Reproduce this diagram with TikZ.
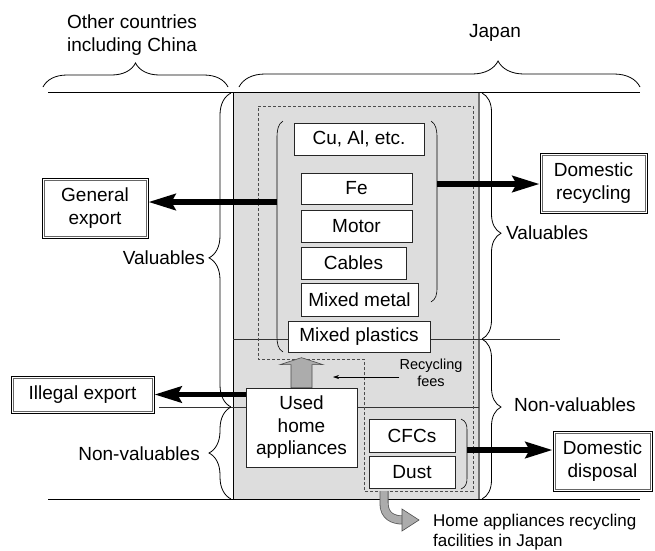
\documentclass[tikz,border=0pt]{standalone}
\usepackage{fontspec}
\setmainfont{Liberation Sans}
\usetikzlibrary{arrows.meta,decorations.pathreplacing}
\begin{document}
\begin{tikzpicture}[x=1pt,y=-1pt,
  txt/.style={inner sep=0pt, align=center, font=\fontsize{19}{22.5}\selectfont},
  box/.style={txt, draw=black!85, fill=white, line width=0.7pt},
  dbox/.style={box, draw=black, line width=0.8pt},
  innenrand/.style={line width=0.6pt, black!60},
  trennlinie/.style={line width=0.7pt, black!80},
  klammer/.style={decorate, line width=0.8pt},
  bigarrow/.style={line width=5.5pt, -{Stealth[length=27pt,width=16pt,inset=4pt]}},
  grauer pfeil/.style={fill=gray!65, draw=black!70, line width=0.6pt}]
\useasboundingbox (0,0) rectangle (655,550);
% Hintergrund:
\fill [gray!27] (233,92) rectangle (479,499);
\draw [line width=0.6pt] (233,92) -- (233,499);
\draw [line width=1.8pt, black!55] (479,92) -- (479,499);
% Linien:
\draw [line width=0.8pt] (48,92) -- (640,92);
\draw [line width=0.8pt] (48,499) -- (640,499);
\draw [trennlinie] (233,339) -- (560,339);
\draw [trennlinie] (159,407) -- (479,407);
\draw [dash pattern=on 3pt off 2pt, line width=0.7pt, black!70]
  (258,106) -- (473,106) -- (473,491) -- (364,491) -- (364,359) -- (258,359) -- cycle;
% Klammern oben:
\draw [klammer, decoration={brace, amplitude=24pt}] (43,87) -- (228,87);
\draw [klammer, decoration={brace, amplitude=26pt, aspect=0.646}] (239,87) -- (640,87);
\node [txt] (ausland) at (132,35) {Other countries\\including China};
\node [txt] (japan) at (495,33) {Japan};
% Klammern seitlich:
\draw [klammer, decoration={brace, amplitude=22pt, aspect=0.475}] (231,407) -- (231,93);
\draw [klammer, decoration={brace, amplitude=22pt}] (231,499) -- (231,407);
\draw [klammer, decoration={brace, amplitude=19pt, aspect=0.57}] (482,93) -- (482,339);
\draw [klammer, decoration={brace, amplitude=19pt, aspect=0.425}] (482,339) -- (482,499);
\node [txt, anchor=east] (wertlinks) at (205,258) {Valuables};
\node [txt, anchor=east] (nwertlinks) at (200,454) {Non-valuables};
\node [txt, anchor=west] (wertrechts) at (506,233) {Valuables};
\node [txt, anchor=west] (nwertrechts) at (514,405) {Non-valuables};
% runde Klammern:
\draw [line width=0.6pt] (283,121) .. controls (278,124) and (277,130) .. (277,138)
  -- (277,336) .. controls (277,344) and (278,349) .. (283,352);
\draw [line width=0.6pt] (431,121) .. controls (436,124) and (437,130) .. (437,138)
  -- (437,287) .. controls (437,295) and (436,299) .. (431,302);
\draw [line width=0.6pt] (461,419) .. controls (466,421) and (467,425) .. (467,430)
  -- (467,478) .. controls (467,483) and (466,487) .. (461,489);
% Wertstoffe:
\node [box, minimum width=130pt, minimum height=32pt] (cu) at (359,139) {Cu, Al, etc.};
\node [box, minimum width=111pt, minimum height=31pt] (fe) at (356.5,188.5) {Fe};
\node [box, minimum width=111pt, minimum height=32pt] (motor) at (356.5,226) {Motor};
\node [box, minimum width=105pt, minimum height=32pt] (cables) at (353.5,263) {Cables};
\node [box, minimum width=117pt, minimum height=33pt] (mmetal) at (359.5,299.5) {Mixed metal};
\node [box, minimum width=142pt, minimum height=31pt] (mplast) at (359,336.5) {Mixed plastics};
% Geraete und Reste:
\node [box, minimum width=111pt, minimum height=79pt] (used) at (301.5,427.5) {Used\\home\\appliances};
\node [box, minimum width=86pt, minimum height=33pt] (cfc) at (412,435.5) {CFCs};
\node [box, minimum width=86pt, minimum height=32pt] (dust) at (412,472) {Dust};
% Ziele:
\node [dbox, minimum width=106pt, minimum height=60pt] (genexp) at (95,208) {General\\export};
\node [dbox, minimum width=143pt, minimum height=37pt] (illegal) at (82.5,394.5) {Illegal export};
\node [dbox, minimum width=107pt, minimum height=60pt] (domrec) at (593.5,183) {Domestic\\recycling};
\node [dbox, minimum width=99pt, minimum height=60pt] (domdis) at (602.5,461) {Domestic\\disposal};
\foreach \ziel in {genexp,illegal,domrec,domdis}
  \draw [innenrand] ([shift={(2.4,2.4)}]\ziel.north west) rectangle ([shift={(-2.4,-2.4)}]\ziel.south east);
% Pfeile:
\coordinate (lpar) at (277,202);
\coordinate (rpar) at (437,184);
\coordinate (cpar) at (467,450);
\draw [bigarrow] (lpar) -- (lpar -| genexp.east);
\draw [bigarrow] (rpar) -- (rpar -| domrec.west);
\draw [bigarrow] (used.west |- illegal.east) -- (illegal.east);
\draw [bigarrow] (cpar) -- (cpar -| domdis.west);
% grauer Pfeil nach oben:
\filldraw [grauer pfeil] (used.north) ++(-10.5,0) -- ++(0,-23) -- ++(-11,0) -- ++(21.5,-7)
  -- ++(21.5,7) -- ++(-11,0) -- ++(0,23) -- cycle;
% Gebuehren:
\node [txt, font=\fontsize{14.5}{17.5}\selectfont] (fees) at (431,373) {Recycling\\fees};
\coordinate (feesend) at (333,377);
\draw [line width=0.6pt, -{Stealth[length=6pt,width=4pt]}] (fees.west |- feesend) -- (feesend);
% Pfeil nach unten:
\coordinate (fac) at (384,491);
\coordinate (facend) at (403,520);
\draw [line width=9pt, black!65] (fac) -- ++(0,12) .. controls +(0,13) and +(-10,0) .. (facend);
\draw [line width=7.4pt, gray!65] (fac) -- ++(0,12) .. controls +(0,13) and +(-10,0) .. (facend);
\filldraw [grauer pfeil] (facend) ++(-1,-11) -- ++(17,11) -- ++(-17,11) -- cycle;
\node [txt, anchor=west, align=left, font=\fontsize{17}{20}\selectfont] (anlagen) at (433,532)
  {Home appliances recycling\\facilities in Japan};
\end{tikzpicture}
\end{document}
